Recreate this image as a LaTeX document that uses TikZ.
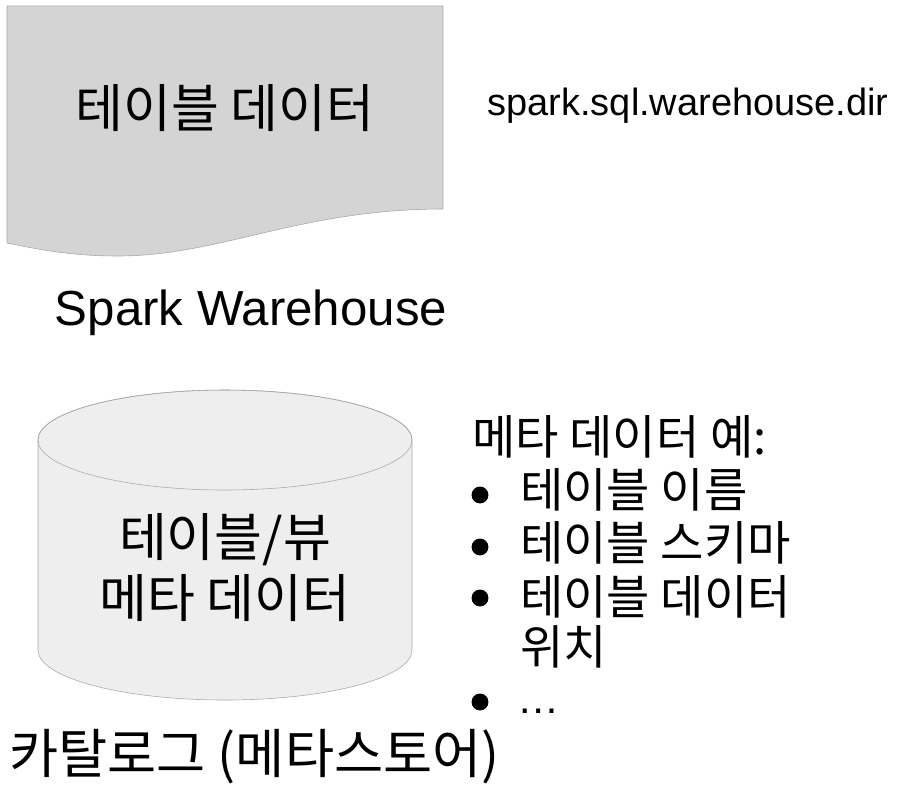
\documentclass[tikz,border=0pt]{standalone}
\usepackage{fontspec}
\setmainfont{Liberation Sans}
\newfontfamily\kr{Noto Sans CJK KR}

\definecolor{paper}{HTML}{D4D4D4}
\definecolor{drum}{HTML}{EEEEEE}
\definecolor{edge}{HTML}{A8A8A8}

\begin{document}
\begin{tikzpicture}[
  x=0.025cm, y=-0.025cm, line cap=round, line join=round,
  kbig/.style={inner sep=0pt, font=\kr\fontsize{37}{44}\selectfont},
  kitem/.style={inner sep=0pt, anchor=west, font=\kr\fontsize{33.5}{40}\selectfont},
  bulletdot/.style={circle, fill=black, inner sep=0pt, minimum size=12pt}
]
  \useasboundingbox (0,0) rectangle (898,798);

  % ── Warehouse (document shape) ───────────────────────────────────────────

  \filldraw[fill=paper, draw=edge, thin]
    (7,6) -- (443,6) -- (443,209)
    .. controls (300,209) and (220,256) .. (118,256)
    .. controls (80,256) and (50,252) .. (7,243) -- cycle;

  \node[kbig] (tbldata) at (225,108) {테이블 데이터};
  \node[inner sep=0pt, font=\fontsize{27}{32}\selectfont] (whdir) at (688,106)
      {spark.sql.warehouse.dir};
  \node[inner sep=0pt, font=\fontsize{35}{42}\selectfont] (whname) at (251,313)
      {Spark Warehouse};

  % ── Catalog (cylinder) ───────────────────────────────────────────────────

  \filldraw[fill=drum, draw=edge, thin]
    (38,440) -- (38,650)
    arc[start angle=180, end angle=0, x radius=187, y radius=50]
    -- (412,440)
    arc[start angle=0, end angle=-180, x radius=187, y radius=50] -- cycle;
  \draw[edge, thin] (225,440) ellipse [x radius=187, y radius=50];

  \node[kbig] (meta1) at (225,540) {테이블/뷰};
  \node[kbig] (meta2) at (225,598) {메타 데이터};
  \node[inner sep=0pt, anchor=west, font=\kr\fontsize{38}{46}\selectfont] (catalog) at (9,757)
      {카탈로그 (메타스토어)};

  % ── Metadata examples ────────────────────────────────────────────────────

  \node[kitem] (head) at (472,437) {메타 데이터 예:};
  \node[kitem] (it1) at (520,490) {테이블 이름};
  \node[kitem] (it2) at (520,543) {테이블 스키마};
  \node[kitem] (it3) at (520,597) {테이블 데이터};
  \node[kitem] (it3b) at (520,647) {위치};
  \node[inner sep=0pt, anchor=west, font=\fontsize{30}{36}\selectfont] (it4) at (517,711) {…};

  \foreach \yy/\nm in {495/b1, 547/b2, 598/b3, 702/b4}
    \node[bulletdot] (\nm) at (480,\yy) {};

\end{tikzpicture}
\end{document}
